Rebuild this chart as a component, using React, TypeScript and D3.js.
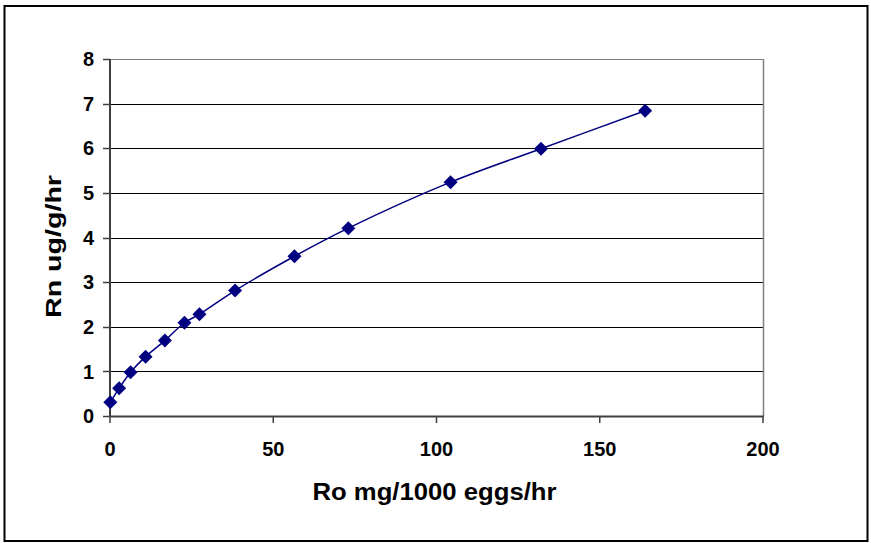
import React from "react";
import * as d3 from "d3";

const roValues = [0.1, 2.8, 6.3, 10.9, 16.8, 22.8, 27.4, 38.3, 56.5, 73.0, 104.3, 132.0, 163.9];
const rnValues = [0.31, 0.62, 0.98, 1.33, 1.69, 2.09, 2.28, 2.81, 3.58, 4.21, 5.24, 5.99, 6.84];
const xTicks = [0, 50, 100, 150, 200];
const yTicks = [0, 1, 2, 3, 4, 5, 6, 7, 8];
const xTitle = "Ro mg/1000 eggs/hr";
const yTitle = "Rn ug/g/hr";

const W = 871;
const H = 543;
const plot = { left: 110, right: 763, top: 59, bottom: 416 };

export default function App() {
  const x = d3.scaleLinear().domain([0, 200]).range([plot.left, plot.right]);
  const y = d3.scaleLinear().domain([0, 8]).range([plot.bottom, plot.top]);
  const pts: [number, number][] = roValues.map((v, i) => [v, rnValues[i]]);
  const line = d3
    .line<[number, number]>()
    .x((d) => x(d[0]))
    .y((d) => y(d[1]))
    .curve(d3.curveCatmullRom.alpha(0.5));
  const diamond = (cx: number, cy: number, r: number) =>
    `M${cx},${cy - r}L${cx + r},${cy}L${cx},${cy + r}L${cx - r},${cy}Z`;
  const font = "'Liberation Sans', Arial, sans-serif";

  return (
    <div style={{ position: "absolute", left: 0, top: 0 }}>
      <svg width={W} height={H} style={{ display: "block" }}>
        <rect x={0} y={0} width={W} height={H} fill="#fff" />
        <rect x={4.5} y={6} width={863} height={535} fill="none" stroke="#000" strokeWidth={2} />
        {yTicks.map((t) => (
          <line
            key={"g" + t}
            x1={plot.left}
            x2={plot.right}
            y1={Math.round(y(t)) + 0.5}
            y2={Math.round(y(t)) + 0.5}
            stroke={t === 8 ? "#808080" : "#000"}
            strokeWidth={1}
          />
        ))}
        <line x1={plot.right + 0.5} x2={plot.right + 0.5} y1={plot.top} y2={plot.bottom} stroke="#808080" strokeWidth={1.5} />
        <line x1={plot.left} x2={plot.left} y1={plot.top} y2={plot.bottom + 0.5} stroke="#404040" strokeWidth={2} />
        <line x1={plot.left} x2={plot.right + 1} y1={plot.bottom + 0.5} y2={plot.bottom + 0.5} stroke="#404040" strokeWidth={2} />
        {yTicks.map((t) => (
          <g key={"yt" + t}>
            <line x1={plot.left - 7} x2={plot.left} y1={Math.round(y(t)) + 0.5} y2={Math.round(y(t)) + 0.5} stroke="#404040" strokeWidth={1.5} />
            <text
              x={94}
              y={y(t)}
              dy="0.36em"
              textAnchor="end"
              fontFamily={font}
              fontWeight="bold"
              fontSize={20}
              fill="#000"
            >
              {t}
            </text>
          </g>
        ))}
        {xTicks.map((t) => (
          <g key={"xt" + t}>
            <line x1={x(t)} x2={x(t)} y1={plot.bottom} y2={plot.bottom + 7} stroke="#404040" strokeWidth={1.5} />
            <text
              x={x(t)}
              y={456}
              textAnchor="middle"
              fontFamily={font}
              fontWeight="bold"
              fontSize={20}
              fill="#000"
            >
              {t}
            </text>
          </g>
        ))}
        <path d={line(pts) || ""} fill="none" stroke="#000080" strokeWidth={1.5} />
        {pts.map((p, i) => (
          <path key={"m" + i} d={diamond(x(p[0]), y(p[1]), 7)} fill="#000080" />
        ))}
        <text
          x={(312 + 557) / 2}
          y={500}
          textAnchor="middle"
          fontFamily={font}
          fontWeight="bold"
          fontSize={23}
          textLength={244}
          lengthAdjust="spacingAndGlyphs"
          fill="#000"
        >
          {xTitle}
        </text>
        <text
          transform={`translate(61,246.5) rotate(-90)`}
          textAnchor="middle"
          fontFamily={font}
          fontWeight="bold"
          fontSize={22}
          textLength={143}
          lengthAdjust="spacingAndGlyphs"
          fill="#000"
        >
          {yTitle}
        </text>
      </svg>
    </div>
  );
}
